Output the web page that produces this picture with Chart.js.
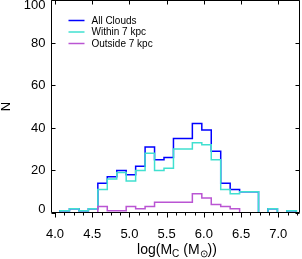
<!DOCTYPE html>
<html><head><meta charset="utf-8">
<script src="https://cdn.jsdelivr.net/npm/chart.js@4.4.0/dist/chart.umd.min.js"></script>
<style>
html,body{margin:0;padding:0;background:#fff;}
#wrap{position:relative;width:302px;height:259px;overflow:hidden;}
canvas{display:block;}
</style></head><body>
<div id="wrap"><canvas id="c" width="302" height="259"></canvas></div>
<script>
// Histogram bin centres (log M_C), with an empty bin at each end
const binCenters = [4.004,4.131,4.258,4.385,4.512,4.639,4.766,4.893,5.020,5.147,5.274,5.401,5.528,5.655,5.782,5.909,6.036,6.163,6.290,6.417,6.544,6.671,6.798,6.925,7.052,7.179,7.306];
const allClouds  = [0,1,2,1,2,14,17,20,18,22,31,25,26,35,35,42,39,29,14,11,10,10,0,2,0,1,0];
const within7    = [0,1,2,1,2,11,16,19,15,20,28,20,21,30,30,33,32,25,11,9,10,10,0,2,0,1,0];
const outside7   = [0,0,0,0,0,3,1,1,3,2,3,5,5,5,5,9,7,4,3,2,0,0,0,0,0,0,0];
const seriesNames = ['All Clouds','Within 7 kpc','Outside 7 kpc'];
const seriesColors = ['#0000ff','#40e0d0','#ba55d3'];
const xTicks = [4.0,4.5,5.0,5.5,6.0,6.5,7.0];
const yTicks = [0,20,40,60,80,100];
const xRange = [3.953, 7.285];
const yRange = [0, 100];
const xMinorStep = 0.125;

const FONT = "'Liberation Sans', Arial, sans-serif";

function mkSet(i, vals, order){
  return {
    label: seriesNames[i],
    data: binCenters.map((x,k)=>({x:x, y:vals[k]})),
    borderColor: seriesColors[i],
    backgroundColor: seriesColors[i],
    borderWidth: 1.5,
    stepped: 'middle',
    pointRadius: 0,
    fill: false,
    order: order,
    borderJoinStyle: 'miter'
  };
}

const decor = {
  id: 'decor',
  afterDraw(chart){
    const ctx = chart.ctx;
    const xs = chart.scales.x, ys = chart.scales.y;
    const a = chart.chartArea;
    const L = Math.round(a.left)-0.5, R = Math.round(a.right)-0.5, T = Math.round(a.top)+0.5, B = Math.round(a.bottom)-0.5;
    ctx.save();
    ctx.strokeStyle = '#000';
    ctx.lineWidth = 1;
    ctx.beginPath();
    ctx.rect(L, T, R-L, B-T);
    xTicks.forEach(v=>{
      const px = Math.round(xs.getPixelForValue(v))+0.5;
      ctx.moveTo(px, B); ctx.lineTo(px, B+5);
      ctx.moveTo(px, T); ctx.lineTo(px, T+4);
    });
    for (let v = xTicks[0]; v <= xRange[1]; v += xMinorStep){
      const px = Math.round(xs.getPixelForValue(v))+0.5;
      ctx.moveTo(px, B); ctx.lineTo(px, B+3);
    }
    yTicks.forEach(v=>{
      const py = Math.round(ys.getPixelForValue(v))+0.5;
      ctx.moveTo(L, py); ctx.lineTo(L+4, py);
      ctx.moveTo(R, py); ctx.lineTo(R-4, py);
    });
    ctx.stroke();

    // y tick labels
    ctx.fillStyle = '#000';
    ctx.font = '13px ' + FONT;
    ctx.textAlign = 'right';
    ctx.textBaseline = 'middle';
    yTicks.forEach(v=>{
      let py = ys.getPixelForValue(v);
      py = Math.min(Math.max(py, a.top+4.5), a.bottom-4.5);
      ctx.fillText(String(v), L-6, py+0.5);
    });

    // y title
    ctx.save();
    ctx.translate(6, (a.top+a.bottom)/2);
    ctx.rotate(-Math.PI/2);
    ctx.textAlign = 'center';
    ctx.textBaseline = 'middle';
    ctx.font = '13px ' + FONT;
    ctx.fillText('N', 0, 0);
    ctx.restore();

    // x title with subscripts
    const parts = [['log(M',0],['C',1],[' (M',0],['\u2299',1],['))',0]];
    const big = '14px ' + FONT, small = '10px ' + FONT;
    let w = 0;
    parts.forEach(p=>{ ctx.font = p[1]?small:big; w += ctx.measureText(p[0]).width; });
    let x = 177 - w/2;
    const by = 254;
    ctx.textAlign = 'left';
    ctx.textBaseline = 'alphabetic';
    parts.forEach(p=>{
      ctx.font = p[1]?small:big;
      ctx.fillText(p[0], x, by + (p[1]?2.5:0));
      x += ctx.measureText(p[0]).width;
    });

    // legend
    ctx.font = '10px ' + FONT;
    ctx.textBaseline = 'middle';
    const ly = [20.5, 32, 43.5];
    seriesNames.forEach((n,i)=>{
      ctx.strokeStyle = seriesColors[i];
      ctx.lineWidth = 1.5;
      ctx.beginPath();
      ctx.moveTo(68.5, ly[i]); ctx.lineTo(84.5, ly[i]);
      ctx.stroke();
      ctx.fillStyle = '#000';
      ctx.fillText(n, 91.5, ly[i]+0.5);
    });
    ctx.restore();
  }
};

new Chart(document.getElementById('c'), {
  type: 'line',
  data: { datasets: [ mkSet(0, allClouds, 3), mkSet(1, within7, 2), mkSet(2, outside7, 1) ] },
  options: {
    responsive: false,
    animation: false,
    devicePixelRatio: 1,
    layout: { padding: { top: 0, right: 2.5, left: 0, bottom: 0 } },
    plugins: { legend: { display: false }, tooltip: { enabled: false } },
    scales: {
      x: {
        type: 'linear', min: xRange[0], max: xRange[1],
        afterBuildTicks(s){ s.ticks = xTicks.map(v=>({value:v})); },
        afterFit(s){ s.height = 46; },
        ticks: { callback: v => Number(v).toFixed(1), font: { family: FONT, size: 13 }, color: '#000', padding: 14, maxRotation: 0, autoSkip: false },
        grid: { display: false, drawTicks: false }, border: { display: false }
      },
      y: {
        min: yRange[0], max: yRange[1],
        afterFit(s){ s.width = 51.5; },
        ticks: { display: false },
        grid: { display: false }, border: { display: false }
      }
    }
  },
  plugins: [decor]
});
</script>
</body></html>
